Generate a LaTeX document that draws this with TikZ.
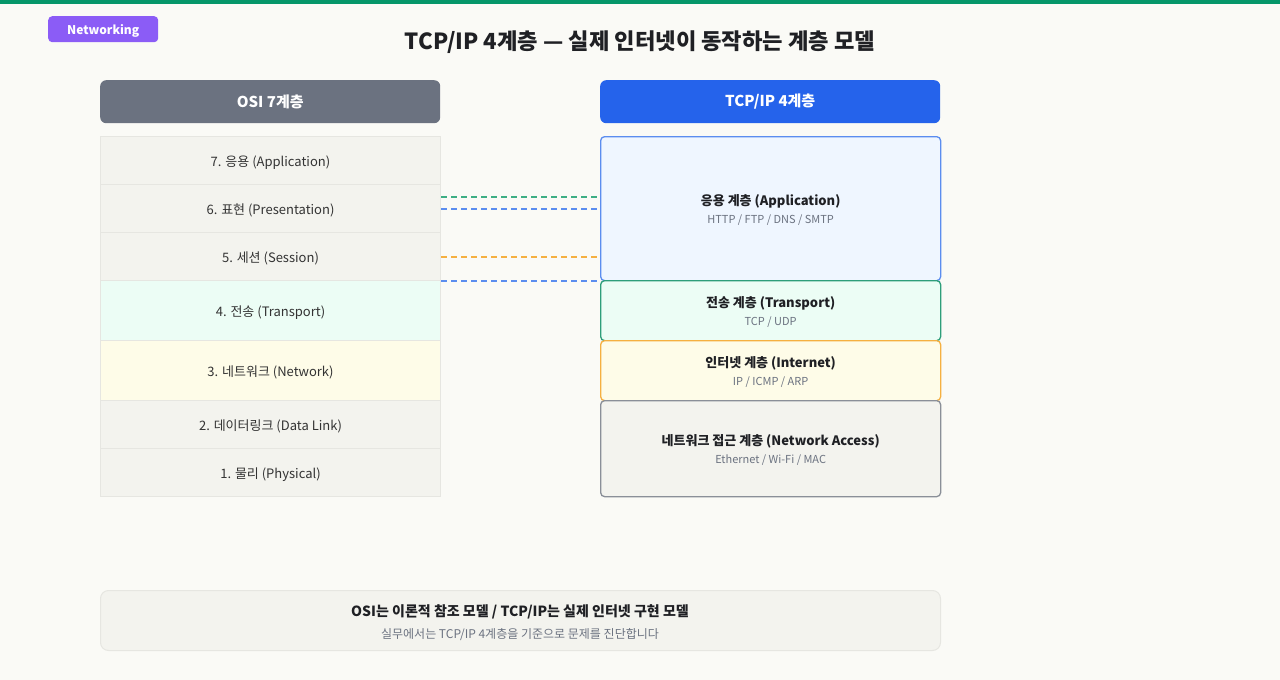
\documentclass[tikz,border=0pt]{standalone}
\usepackage{fontspec}
\setmainfont{Noto Sans CJK KR}
\usetikzlibrary{calc}
\definecolor{bg}{HTML}{FAFAF6}
\definecolor{topbar}{HTML}{059669}
\definecolor{badge}{HTML}{8B5CF6}
\definecolor{hdgray}{HTML}{6B7280}
\definecolor{hdblue}{HTML}{2563EB}
\definecolor{rowfill}{HTML}{F3F3EE}
\definecolor{rowline}{HTML}{E6E6E1}
\definecolor{greenfill}{HTML}{ECFDF5}
\definecolor{yellowfill}{HTML}{FEFCE8}
\definecolor{bluefill}{HTML}{EFF6FF}
\definecolor{blueline}{HTML}{5B8DEF}
\definecolor{greenline}{HTML}{2E9E7A}
\definecolor{dgreen}{HTML}{3DAE84}
\definecolor{amber}{HTML}{F5B041}
\definecolor{grayline}{HTML}{8A8F98}
\definecolor{txt}{HTML}{333333}
\definecolor{dark}{HTML}{1F2024}
\definecolor{sub}{HTML}{6B7280}
\newcommand{\lowr}[1]{\raisebox{-2pt}[\height][\depth]{#1}}
\tikzset{
  osirow/.style={draw=rowline, line width=1pt, fill=rowfill, minimum width=340pt, inner sep=0pt, anchor=north west, text=txt, font=\fontsize{13}{15}\selectfont},
  tcpbox/.style={line width=1.3pt, rounded corners=4pt, minimum width=340pt, inner sep=0pt, anchor=north west},
  header/.style={rounded corners=6pt, minimum width=340pt, minimum height=43pt, inner sep=0pt, anchor=north west, text=white, font=\bfseries\fontsize{15}{18}\selectfont},
  ttl/.style={font=\bfseries\fontsize{13}{16}\selectfont, text=dark},
  subt/.style={font=\fontsize{11}{13}\selectfont, text=sub},
  map/.style={dashed, dash pattern=on 6pt off 4pt, line width=2pt},
}
\begin{document}
\begin{tikzpicture}[x=1pt,y=-1pt]
\useasboundingbox (0,0) rectangle (1280,680);
\fill[bg] (0,0) rectangle (1280,680);
\fill[topbar] (0,0) rectangle (1280,4);
% badge
\node[fill=badge, rounded corners=4pt, minimum width=110pt, minimum height=26pt, inner sep=0pt, anchor=north west, text=white, font=\bfseries\fontsize{12}{14}\selectfont] (badge) at (48,16) {\lowr{Networking}};
% title
\node[font=\bfseries\fontsize{22.2}{26}\selectfont, text=dark] (title) at (640,42) {TCP/IP 4계층 — 실제 인터넷이 동작하는 계층 모델};
% headers
\node[header, fill=hdgray] (osih) at (100,80) {OSI 7계층};
\node[header, fill=hdblue] (tcph) at (600,80) {TCP/IP 4계층};
% OSI rows
\node[osirow, minimum height=48pt] (l7) at (100,136) {\lowr{7. 응용 (Application)}};
\node[osirow, minimum height=48pt] (l6) at (100,184) {\lowr{6. 표현 (Presentation)}};
\node[osirow, minimum height=48pt] (l5) at (100,232) {\lowr{5. 세션 (Session)}};
\node[osirow, minimum height=60pt, fill=greenfill] (l4) at (100,280) {\lowr{4. 전송 (Transport)}};
\node[osirow, minimum height=60pt, fill=yellowfill] (l3) at (100,340) {\lowr{3. 네트워크 (Network)}};
\node[osirow, minimum height=48pt] (l2) at (100,400) {\lowr{2. 데이터링크 (Data Link)}};
\node[osirow, minimum height=48pt] (l1) at (100,448) {\lowr{1. 물리 (Physical)}};
% TCP/IP boxes
\node[tcpbox, draw=blueline, fill=bluefill, minimum height=144pt] (app) at (600,136) {};
\node[tcpbox, draw=greenline, fill=greenfill, minimum height=60pt] (trn) at (600,280) {};
\node[tcpbox, draw=amber, fill=yellowfill, minimum height=60pt] (inet) at (600,340) {};
\node[tcpbox, draw=grayline, fill=rowfill, minimum height=96pt] (nac) at (600,400) {};
\node[ttl] (app-t) at ($(app.center)+(0,-7)$) {응용 계층 (Application)};
\node[subt] (app-s) at ($(app.center)+(0,11)$) {HTTP / FTP / DNS / SMTP};
\node[ttl] (trn-t) at ($(trn.center)+(0,-7)$) {전송 계층 (Transport)};
\node[subt] (trn-s) at ($(trn.center)+(0,11)$) {TCP / UDP};
\node[ttl] (inet-t) at ($(inet.center)+(0,-7)$) {인터넷 계층 (Internet)};
\node[subt] (inet-s) at ($(inet.center)+(0,11)$) {IP / ICMP / ARP};
\node[ttl] (nac-t) at ($(nac.center)+(0,-7)$) {네트워크 접근 계층 (Network Access)};
\node[subt] (nac-s) at ($(nac.center)+(0,11)$) {Ethernet / Wi-Fi / MAC};
% mapping lines
\coordinate (g1) at ($(l6.east)+(0,-12)$);
\draw[map, dgreen] (g1) -- ($(g1 -| app.west)+(-3,0)$);
\draw[map, blueline] (l6.east) -- ($(l6.east -| app.west)+(-3,0)$);
\draw[map, amber] (l5.east) -- ($(l5.east -| app.west)+(-3,0)$);
\draw[map, blueline] (l5.south east) -- ($(l5.south east -| app.west)+(-3,0)$);
% bottom note
\node[draw=rowline, line width=1pt, fill=rowfill, rounded corners=8pt, minimum width=840pt, minimum height=60pt, inner sep=0pt, anchor=north west] (note) at (100,590) {};
\node[font=\bfseries\fontsize{14}{17}\selectfont, text=dark] (notet) at (520,612) {OSI는 이론적 참조 모델 / TCP/IP는 실제 인터넷 구현 모델};
\node[font=\fontsize{12}{14}\selectfont, text=sub] (notes) at (520,635) {실무에서는 TCP/IP 4계층을 기준으로 문제를 진단합니다};
\end{tikzpicture}
\end{document}
